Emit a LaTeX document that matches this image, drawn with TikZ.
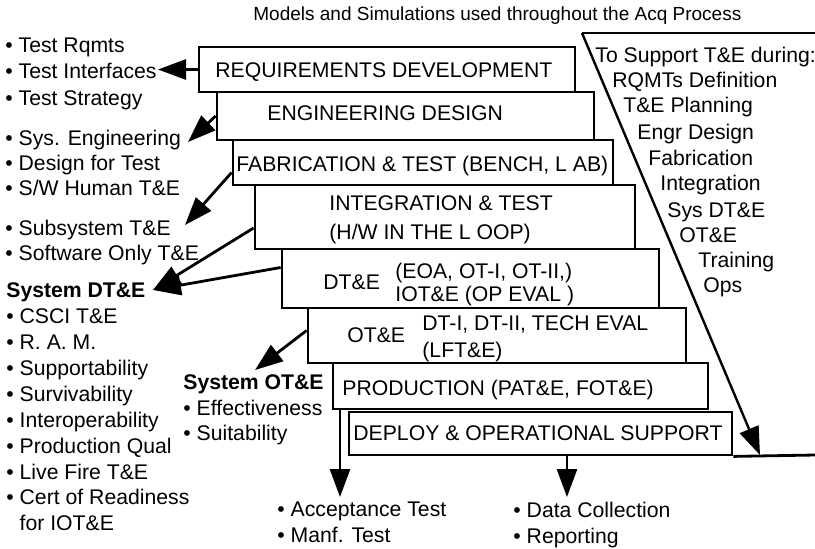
\documentclass[tikz,border=0pt]{standalone}
\usepackage{fontspec}
\setmainfont{Liberation Sans}
\usetikzlibrary{arrows.meta,calc,fit}

\newcommand{\stagefont}{\fontsize{10.6}{12.9}\selectfont}
\newcommand{\titlefont}{\fontsize{9.5}{11}\selectfont}

\begin{document}
\begin{tikzpicture}[x=0.5pt, y=-0.5pt,
    stage/.style={draw, line width=1.4pt, fill=white, inner sep=0pt},
    stagetext/.style={font=\stagefont, inner sep=0pt, anchor=base west},
    stagelines/.style={font=\stagefont, inner sep=0pt, anchor=north west, align=left},
    sidelist/.style={font=\stagefont, inner sep=0pt, anchor=north west, align=left},
    feed/.style={line width=1.4pt, -{Triangle[length=14pt, width=10pt]}}
]
    \useasboundingbox (0,0) rectangle (815,548);

    % title
    \node[font=\titlefont, inner sep=0pt, anchor=base west] (title) at (253,20) {Models and Simulations used throughout the Acq Process};

    % stages of the acquisition process
    \node[stage, fit={(199,47) (575,92)}] (req) {};
    \node[stage, fit={(217,92) (594,140)}] (eng) {};
    \node[stage, fit={(233,140) (613,185)}] (fab) {};
    \node[stage, fit={(255,185) (635,249)}] (int) {};
    \node[stage, fit={(282,249) (659,308)}] (dte) {};
    \node[stage, fit={(308,308) (686,363)}] (ote) {};
    \node[stage, fit={(333,363) (708,409)}] (prod) {};
    \node[stage, fit={(349,412) (732,455)}] (dep) {};

    \node[stagetext] (req-t) at (215,77) {REQUIREMENTS DEVELOPMENT};
    \node[stagetext] (eng-t) at (267,120) {ENGINEERING DESIGN};
    \node[stagetext] (fab-t) at (236,171) {FABRICATION \& TEST (BENCH, L AB)};
    \node[stagelines, font=\fontsize{10.6}{14.5}\selectfont] (int-t) at (329,195.5) {INTEGRATION \& TEST\\(H/W IN THE L OOP)};
    \node[stagetext] (dte-t) at (323,289) {DT\&E};
    \node[stagelines, font=\fontsize{10.6}{11.5}\selectfont] (dte-s) at (395,262.5) {(EOA, OT-I, OT-II,)\\IOT\&E (OP EVAL )};
    \node[stagetext] (ote-t) at (347,342) {OT\&E};
    \node[stagelines, font=\fontsize{10.6}{13.5}\selectfont] (ote-s) at (422,315.5) {DT-I, DT-II, TECH EVAL\\(LFT\&E)};
    \node[stagetext] (prod-t) at (342,395) {PRODUCTION (PAT\&E, FOT\&E)};
    \node[stagetext] (dep-t) at (353,440) {DEPLOY \& OPERATIONAL SUPPORT};

    % T&E activities on the left
    \node[sidelist, font=\fontsize{10.6}{13.2}\selectfont] (rqmt-list) at (5,37.5) {• Test Rqmts\\• Test Interfaces\\• Test Strategy};
    \node[sidelist, font=\fontsize{10.6}{12.5}\selectfont] (design-list) at (5,129.5) {• Sys. Engineering\\• Design for Test\\• S/W Human T\&E};
    \node[sidelist, font=\fontsize{10.6}{12.5}\selectfont] (sub-list) at (5,219.5) {• Subsystem T\&E\\• Software Only T\&E};
    \node[sidelist, font=\fontsize{10.6}{12.95}\selectfont] (dt-list) at (6,282.5) {\textbf{System DT\&E}\\• CSCI T\&E\\• R. A. M.\\• Supportability\\• Survivability\\• Interoperability\\• Production Qual\\• Live Fire T\&E\\• Cert of Readiness\\\phantom{•}\ for IOT\&E};
    \node[sidelist, font=\fontsize{10.6}{12.75}\selectfont] (ot-list) at (183,374.5) {\textbf{System OT\&E}\\• Effectiveness\\• Suitability};
    \node[sidelist, font=\fontsize{10.6}{13}\selectfont] (acc-list) at (277,502) {• Acceptance Test\\• Manf. Test};
    \node[sidelist, font=\fontsize{10.6}{13}\selectfont] (data-list) at (513,502) {• Data Collection\\• Reporting};

    % models and simulations column
    \foreach \x/\y/\txt [count=\i] in {595/62/To Support T\&E during:, 612/87/RQMTs Definition, 623/112/T\&E Planning, 637/139/Engr Design, 648/165/Fabrication, 660/190/Integration, 667/217/Sys DT\&E, 679/242/OT\&E, 698/267/Training, 703/292/Ops}
        \node[stagetext] (use-\i) at (\x,\y) {\txt};

    % arrows
    \coordinate (rqmt-tip) at (158,70);
    \coordinate (design-tip) at (188,142);
    \coordinate (sub-tip) at (185,225);
    \coordinate (dt-tip) at (153,290);
    \coordinate (ot-tip) at (255,370);
    \coordinate (acc-tip) at (340,497);
    \coordinate (data-tip) at (567,497);
    \draw[feed] (req.west) -- (req.west -| rqmt-tip);
    \draw[feed] (eng.west) -- (design-tip);
    \draw[feed] ($(fab.west)+(0,10)$) -- (sub-tip);
    \draw[feed] ($(int.west)+(0,11)$) -- (dt-tip);
    \draw[feed] ($(dte.west)+(0,-11)$) -- (dt-tip);
    \draw[feed] ($(ote.west)+(0,-5)$) -- (ot-tip);
    \draw[feed] (acc-tip |- prod.south) -- (acc-tip);
    \draw[feed] (data-tip |- dep.south) -- (data-tip);

    % frame of the right column
    \coordinate (frame-top) at (582,33);
    \coordinate (frame-ne) at (815,33);
    \coordinate (frame-tip) at (760,455);
    \coordinate (frame-se) at (815,455);
    \draw[line width=1pt] (frame-ne) -- (frame-top);
    \draw[feed, line width=1.2pt] (frame-top) -- (frame-tip);
    \draw[line width=1.4pt] (dep.south east) -- (frame-se);
\end{tikzpicture}
\end{document}
